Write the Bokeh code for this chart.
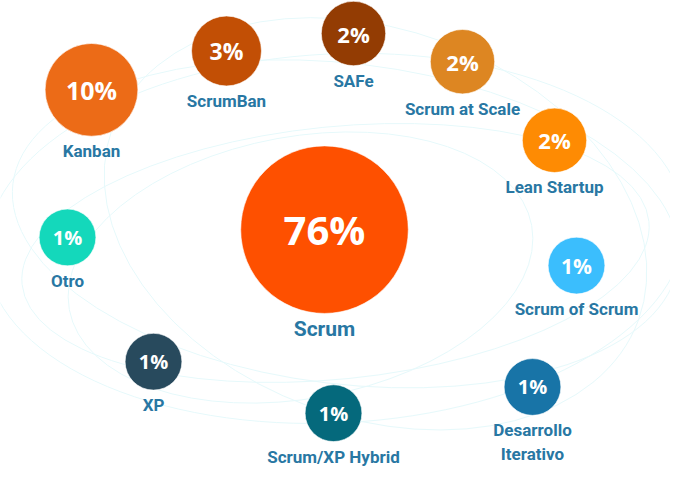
import numpy as np
from bokeh.plotting import figure
from bokeh.models import Range1d, ColumnDataSource
from bokeh.core.properties import value
from bokeh.embed import file_html
from bokeh.resources import INLINE

# ---- data ----
methods = ["Scrum", "Kanban", "ScrumBan", "SAFe", "Scrum at Scale", "Lean Startup",
           "Otro", "Scrum of Scrum", "XP", "Scrum/XP Hybrid", "Desarrollo\nIterativo"]
shares = [76, 10, 3, 2, 2, 2, 1, 1, 1, 1, 1]

# ---- layout (reference-pixel positions of bubble centres) and styles ----
pos_x = [324, 91, 226, 353, 462, 554, 67, 576, 153, 333, 532]
pos_y = [241, 97, 57, 39, 68, 149, 249, 278, 377, 430, 403]
colors = ["#fe5000", "#ec6b17", "#c24f05", "#933c03", "#dd8622", "#fe8b03",
          "#14d8bb", "#3bbefd", "#284a5d", "#05697c", "#1874a7"]
pct_px = [40, 25, 23, 22, 22, 22, 20, 21, 20, 20, 20]

W, H = 670, 469          # figure size in screen px
RH = 485                 # reference canvas height in data units
v = np.array(shares, dtype=float)
r = 16.5 + 11.9 * v ** 0.4
x = np.array(pos_x, dtype=float)
y = RH - np.array(pos_y, dtype=float)

lab_size = ["21px" if s == max(shares) else "17px" for s in shares]

src = ColumnDataSource(dict(
    x=x, y=y, r=r, color=colors,
    pct=[f"{s}%" for s in shares], pct_size=[f"{f}px" for f in pct_px],
    label=methods, ly=y - r - 6, lab_size=lab_size,
))

p = figure(width=W, height=H, output_backend="svg", toolbar_location=None,
           x_range=Range1d(0, W), y_range=Range1d(-3, RH - 5), min_border=0,
           outline_line_color=None, background_fill_color="white")
p.axis.visible = False
p.grid.visible = False

# faint decorative orbits
ex = [345, 335, 375, 300, 335]
ey = [250, 220, 250, 205, 235]
ew = [670, 630, 560, 470, 700]
eh = [330, 260, 400, 270, 380]
ea = [-0.12, 0.10, -0.35, 0.18, 0.05]
p.ellipse(x=ex, y=ey, width=ew, height=eh, angle=ea,
          fill_color=None, line_color="#e6f9fb", line_width=1)

p.circle(x="x", y="y", radius="r", fill_color="color", line_color="white",
         line_width=1, line_alpha=0.6, source=src)

p.text(x="x", y="y", text="pct", source=src, text_color="white",
       text_font=value("Open Sans"), text_font_style="bold",
       text_font_size="pct_size", text_align="center", text_baseline="middle")

p.text(x="x", y="ly", text="label", source=src, text_color="#2877a3",
       text_font=value("Roboto"), text_font_style="bold",
       text_font_size="lab_size",
       text_align="center", text_baseline="top", text_line_height=1.2)

open("out.html", "w").write(file_html(p, INLINE))
